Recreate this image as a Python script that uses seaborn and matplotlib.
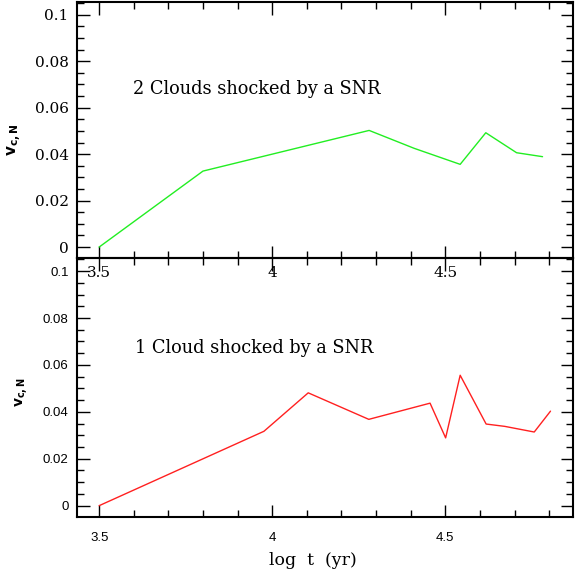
# two panel plot of v_c,N vs log t for clouds shocked by a SNR

import matplotlib
matplotlib.use('Agg')
import matplotlib.pyplot as plt
import seaborn as sns
from matplotlib.ticker import MultipleLocator

# 2 clouds (top panel)
logt_2 = [3.5, 3.80, 4.28, 4.41, 4.543, 4.617, 4.706, 4.781]
vcn_2 = [0.0, 0.0327, 0.0502, 0.0425, 0.0356, 0.0492, 0.0406, 0.0389]

# 1 cloud (bottom panel)
logt_1 = [3.5, 3.976, 4.104, 4.279, 4.456, 4.501, 4.543, 4.618, 4.672, 4.757, 4.804]
vcn_1 = [0.0, 0.0317, 0.0481, 0.0368, 0.0437, 0.0289, 0.0556, 0.0348, 0.0338, 0.0314, 0.0403]

xticks = [3.5, 4, 4.5]
xtick_labels = ['3.5', '4', '4.5']
yticks = [0, 0.02, 0.04, 0.06, 0.08, 0.1]
ytick_labels = ['0', '0.02', '0.04', '0.06', '0.08', '0.1']


def style_axes(ax, tick_font, tick_size):
    ax.set_xlim(3.436, 4.869)
    ax.set_ylim(-0.0047, 0.1056)
    ax.set_xticks(xticks)
    ax.set_xticklabels(xtick_labels)
    ax.set_yticks(yticks)
    ax.set_yticklabels(ytick_labels)
    ax.xaxis.set_minor_locator(MultipleLocator(0.1))
    ax.yaxis.set_minor_locator(MultipleLocator(0.005))
    ax.tick_params(which='both', direction='in', top=True, right=True, width=1.0,
                   color='black', labelcolor='black')
    ax.tick_params(which='major', length=9, pad=6)
    ax.tick_params(which='minor', length=5)
    for lab in ax.get_xticklabels() + ax.get_yticklabels():
        lab.set_family(tick_font)
        lab.set_fontsize(tick_size)
    for sp in ax.spines.values():
        sp.set_linewidth(1.5)
        sp.set_color('black')
        sp.set_visible(True)


def main():
    sns.set_style('ticks')
    fig = plt.figure(figsize=(5.76, 5.72), dpi=100)

    ax_bot = fig.add_axes([0.1337, 0.0967, 0.8611, 0.4523])
    ax_top = fig.add_axes([0.1337, 0.549, 0.8611, 0.448])
    ax_top.set_zorder(3)
    ax_top.patch.set_alpha(0)

    sns.lineplot(x=logt_2, y=vcn_2, color='#22ee22', lw=1.0, ax=ax_top)
    sns.lineplot(x=logt_1, y=vcn_1, color='#ff2020', lw=1.0, ax=ax_bot)

    style_axes(ax_top, 'DejaVu Serif', 11)
    style_axes(ax_bot, 'Liberation Sans', 9.5)
    ax_top.tick_params(axis='x', pad=6)
    ax_bot.tick_params(axis='x', pad=11)

    ax_top.text(0.113, 0.661, '2 Clouds shocked by a SNR', transform=ax_top.transAxes,
                family='DejaVu Serif', fontsize=12.8, va='center', color='black')
    ax_bot.text(0.117, 0.653, '1 Cloud shocked by a SNR', transform=ax_bot.transAxes,
                family='DejaVu Serif', fontsize=12.8, va='center', color='black')

    fig.text(0.026, 0.755, r'$\mathbf{v_{c,N}}$', rotation=90, ha='center', va='center',
             fontsize=11, color='black')
    fig.text(0.038, 0.315, r'$\mathbf{v_{c,N}}$', rotation=90, ha='center', va='center',
             fontsize=10, color='black')
    ax_bot.set_xlabel('log  t  (yr)', family='DejaVu Serif', fontsize=12.5, color='black')
    ax_bot.xaxis.set_label_coords(0.476, -0.135)
    ax_top.set_xlabel('')
    ax_top.set_ylabel('')
    ax_bot.set_ylabel('')

    fig.savefig('out.png', dpi=100)


if __name__ == "__main__":
    main()
